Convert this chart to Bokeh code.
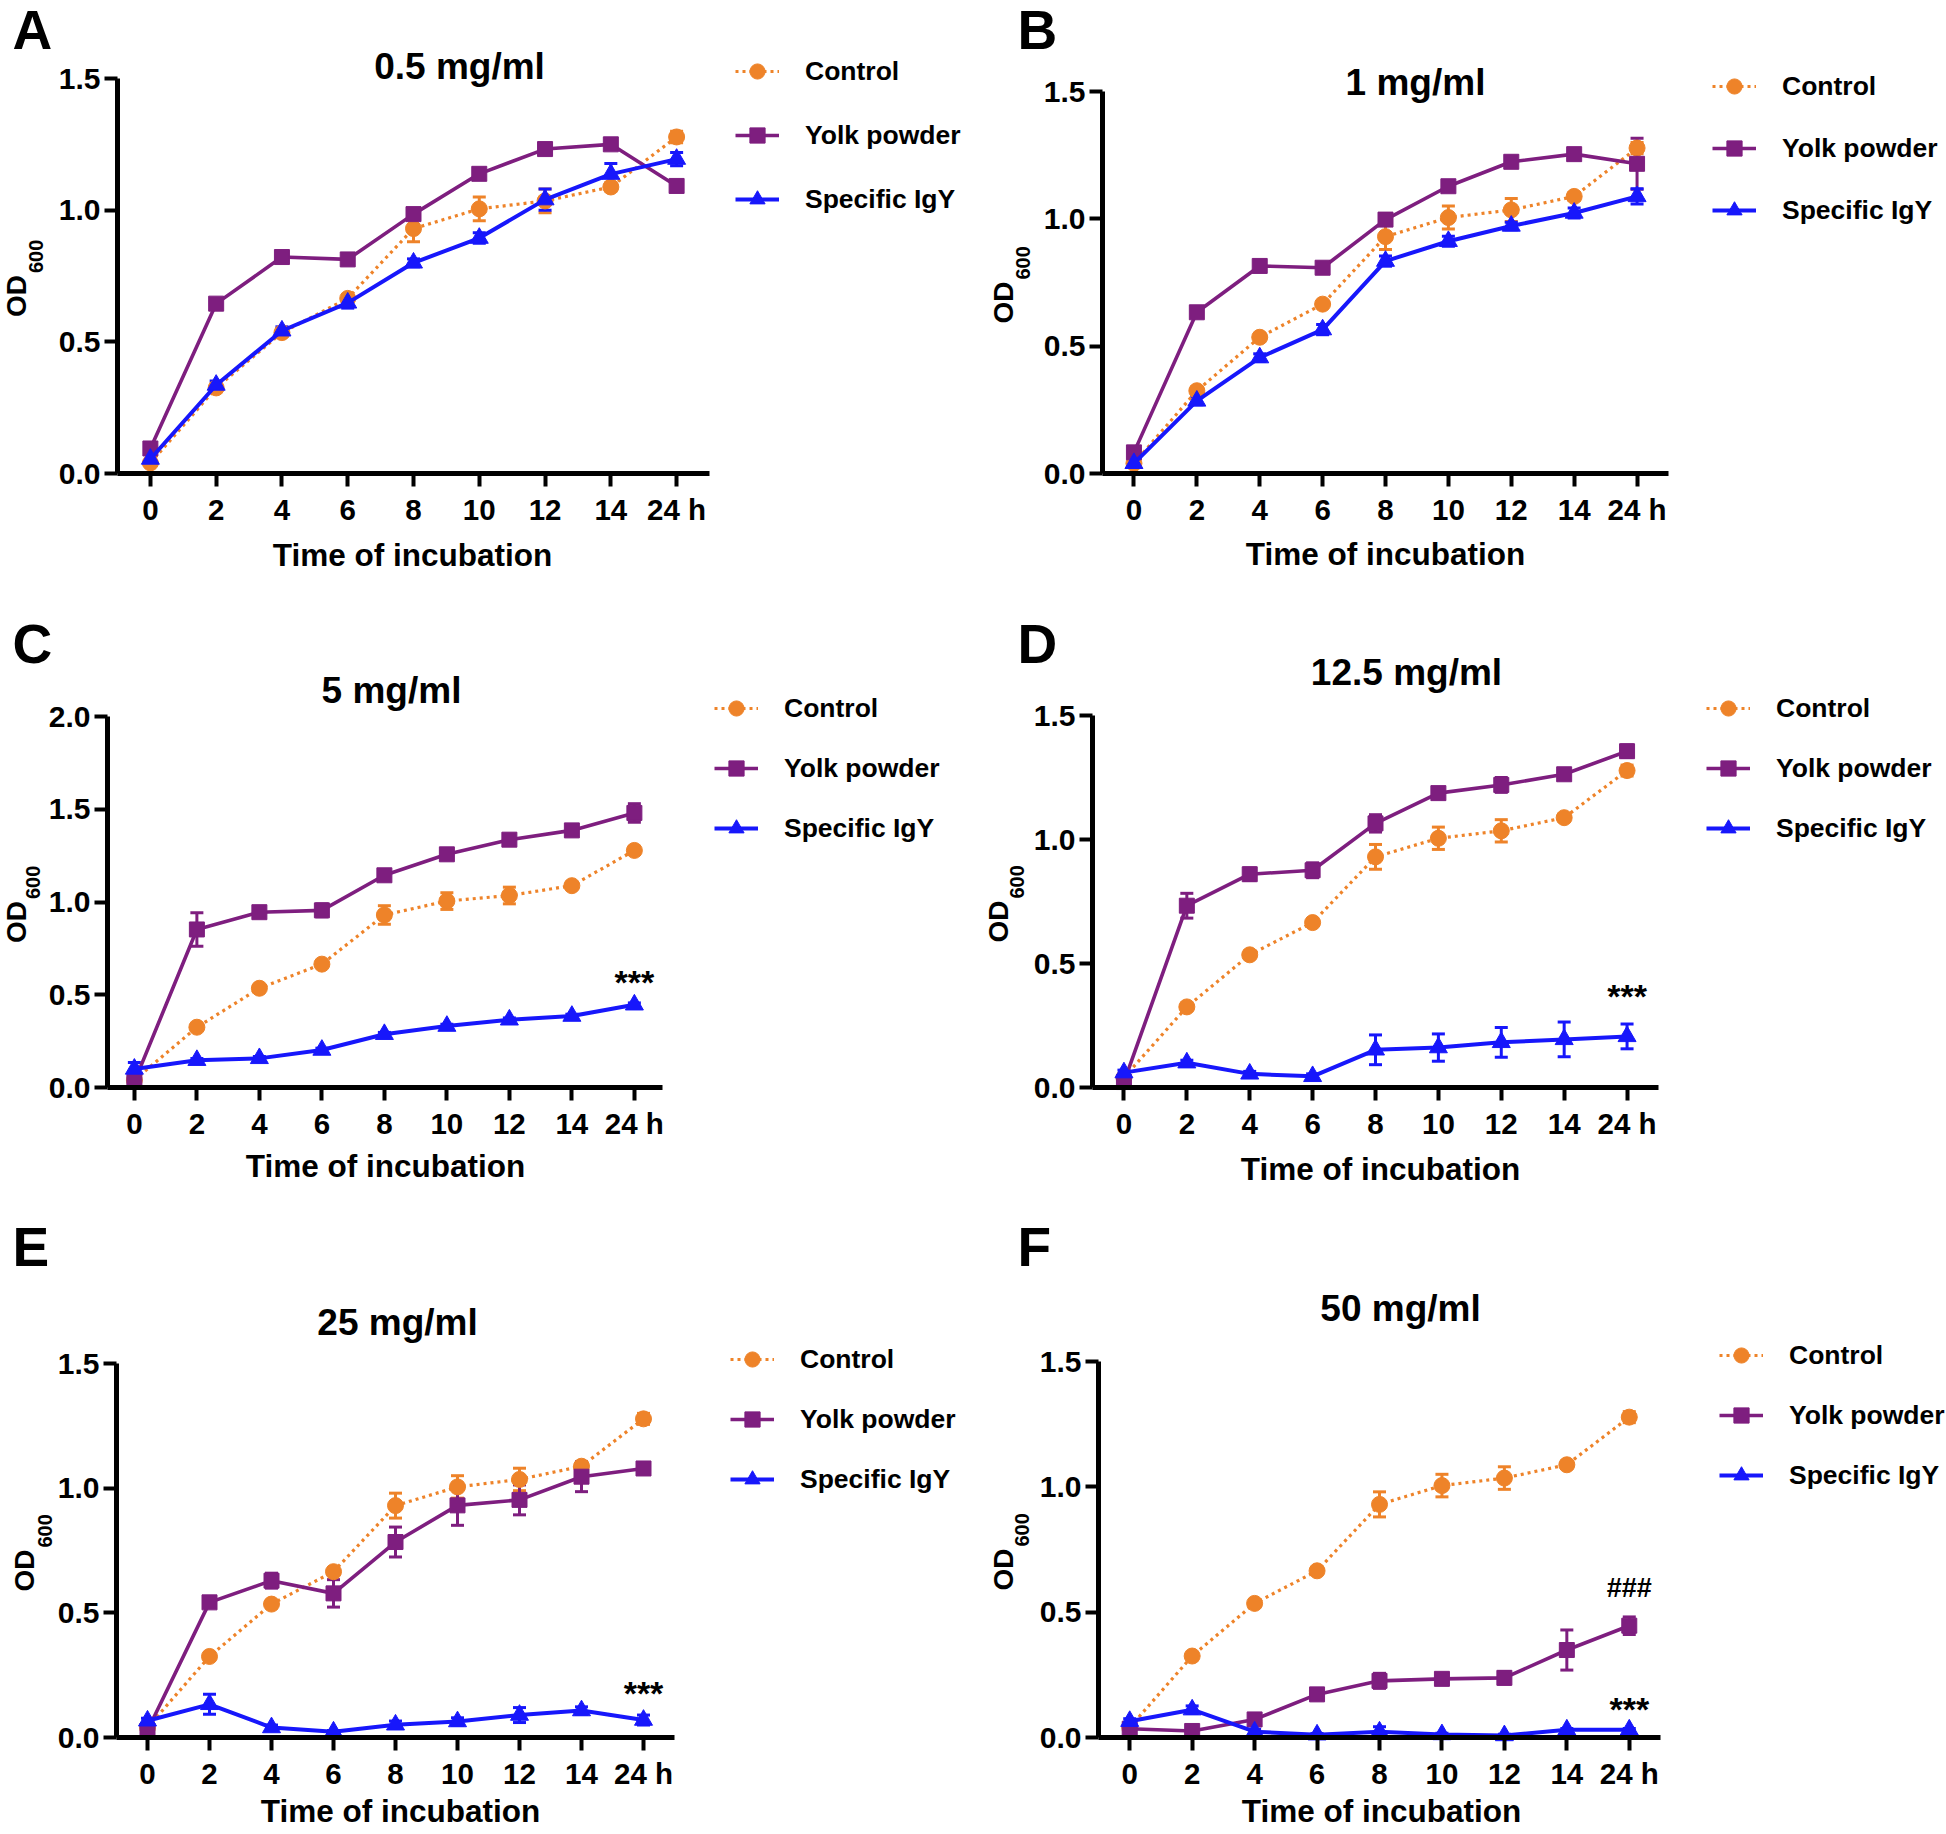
import math
from bokeh.plotting import figure
from bokeh.models import (ColumnDataSource, Whisker, TeeHead, Label, Legend, LegendItem,
                          FixedTicker, Range1d, NumeralTickFormatter)
from bokeh.layouts import column, row
from bokeh.embed import file_html
from bokeh.resources import INLINE

# ---------------- data ----------------
times = ["0", "2", "4", "6", "8", "10", "12", "14", "24 h"]
series_names = ["Control", "Yolk powder", "Specific IgY"]
titles = ["0.5 mg/ml", "1 mg/ml", "5 mg/ml", "12.5 mg/ml", "25 mg/ml", "50 mg/ml"]
panel_letters = ["A", "B", "C", "D", "E", "F"]

control = [0.04, 0.325, 0.535, 0.665, 0.93, 1.005, 1.035, 1.088, 1.278]
control_err = [0.01, 0.015, 0.015, 0.012, 0.05, 0.045, 0.045, 0.015, 0.022]

yolk_a = [0.095, 0.645, 0.822, 0.813, 0.985, 1.138, 1.232, 1.25, 1.092]
yolk_a_err = [0.015, 0.012, 0.012, 0.015, 0.02, 0.02, 0.015, 0.012, 0.02]
igy_a = [0.055, 0.336, 0.542, 0.648, 0.800, 0.894, 1.040, 1.137, 1.194]
igy_a_err = [0.02, 0.015, 0.015, 0.02, 0.015, 0.02, 0.04, 0.04, 0.025]

yolk_b = [0.083, 0.633, 0.815, 0.808, 0.997, 1.128, 1.224, 1.254, 1.216]
yolk_b_err = [0.012, 0.015, 0.012, 0.015, 0.015, 0.02, 0.015, 0.012, 0.1]
igy_b = [0.040, 0.285, 0.455, 0.565, 0.834, 0.912, 0.972, 1.023, 1.088]
igy_b_err = [0.01, 0.015, 0.015, 0.02, 0.02, 0.02, 0.015, 0.02, 0.03]

yolk_c = [0.030, 0.852, 0.945, 0.955, 1.144, 1.257, 1.336, 1.386, 1.48]
yolk_c_err = [0.01, 0.09, 0.02, 0.035, 0.02, 0.02, 0.02, 0.02, 0.05]
igy_c = [0.100, 0.147, 0.157, 0.202, 0.287, 0.331, 0.365, 0.385, 0.446]
igy_c_err = [0.035, 0.01, 0.01, 0.01, 0.01, 0.01, 0.01, 0.01, 0.01]

yolk_d = [0.022, 0.733, 0.860, 0.876, 1.065, 1.187, 1.220, 1.263, 1.356]
yolk_d_err = [0.01, 0.05, 0.025, 0.03, 0.035, 0.02, 0.03, 0.02, 0.025]
igy_d = [0.060, 0.100, 0.055, 0.045, 0.152, 0.161, 0.182, 0.194, 0.206]
igy_d_err = [0.01, 0.01, 0.01, 0.01, 0.06, 0.055, 0.06, 0.07, 0.05]

yolk_e = [0.028, 0.542, 0.629, 0.578, 0.784, 0.931, 0.953, 1.046, 1.079]
yolk_e_err = [0.01, 0.015, 0.03, 0.055, 0.06, 0.08, 0.06, 0.06, 0.02]
igy_e = [0.067, 0.133, 0.040, 0.023, 0.051, 0.064, 0.090, 0.108, 0.070]
igy_e_err = [0.01, 0.04, 0.01, 0.005, 0.015, 0.015, 0.03, 0.015, 0.02]

yolk_f = [0.035, 0.026, 0.072, 0.172, 0.226, 0.234, 0.238, 0.349, 0.446]
yolk_f_err = [0.01, 0.01, 0.015, 0.015, 0.03, 0.02, 0.025, 0.08, 0.035]
igy_f = [0.065, 0.111, 0.023, 0.011, 0.023, 0.012, 0.008, 0.031, 0.031]
igy_f_err = [0.01, 0.015, 0.01, 0.005, 0.02, 0.005, 0.005, 0.005, 0.005]

y_max = [1.5, 1.5, 2.0, 1.5, 1.5, 1.5]
yolk_all = [yolk_a, yolk_b, yolk_c, yolk_d, yolk_e, yolk_f]
yolk_err_all = [yolk_a_err, yolk_b_err, yolk_c_err, yolk_d_err, yolk_e_err, yolk_f_err]
igy_all = [igy_a, igy_b, igy_c, igy_d, igy_e, igy_f]
igy_err_all = [igy_a_err, igy_b_err, igy_c_err, igy_d_err, igy_e_err, igy_f_err]

# significance marks: (text, y value, font px) at 24 h
sig_marks = [[], [], [("***", 0.57, 34)], [("***", 0.367, 34)], [("***", 0.177, 34)],
             [("###", 0.597, 27), ("***", 0.112, 34)]]

# ---------------- layout / style ----------------
ORANGE = "#EE8329"
PURPLE = "#7E1E7F"
BLUE = "#1717FB"
FONT = "Liberation Sans"
FW = 973
col_x = [0, 973]
row_y = [0, 611, 1212]
row_h = [611, 601, 621]

# page-pixel geometry per panel: axis-box left/right, y of top tick, y of x-axis line
geom = [
    dict(c=0, r=0, L=117, R=709, xs=-0.5, xe=8.5, T=78, B=473, title_x=459, title_y=80,
         xl_x=412, xl_y=566, od_x=16, sub_x=35, let_x=12, letter_y=50, lg_x=735, lg_y=71, lg_p=63.5),
    dict(c=1, r=0, L=1102, R=1668, xs=-0.5, xe=8.5, T=91, B=473, title_x=1415, title_y=96,
         xl_x=1385, xl_y=565, od_x=1003, sub_x=1022, let_x=1017, letter_y=50, lg_x=1712, lg_y=86,
         lg_p=62),
    dict(c=0, r=1, L=107, R=662, xs=-0.43, xe=8.45, T=716, B=1087, title_x=391, title_y=704,
         xl_x=385, xl_y=1177, od_x=16, sub_x=32, let_x=12, letter_y=664, lg_x=714, lg_y=708,
         lg_p=60),
    dict(c=1, r=1, L=1092, R=1658, xs=-0.5, xe=8.5, T=715, B=1087, title_x=1406, title_y=686,
         xl_x=1380, xl_y=1180, od_x=998, sub_x=1016, let_x=1017, letter_y=664, lg_x=1706,
         lg_y=708, lg_p=60),
    dict(c=0, r=2, L=116, R=674, xs=-0.5, xe=8.5, T=1363, B=1737, title_x=397, title_y=1336,
         xl_x=400, xl_y=1822, od_x=24, sub_x=44, let_x=12, letter_y=1267, lg_x=730, lg_y=1359,
         lg_p=59.5),
    dict(c=1, r=2, L=1098, R=1660, xs=-0.5, xe=8.5, T=1361, B=1737, title_x=1400, title_y=1322,
         xl_x=1381, xl_y=1822, od_x=1003, sub_x=1021, let_x=1017, letter_y=1267, lg_x=1719,
         lg_y=1355, lg_p=59.5),
]

BASE_SHIFT = 0.37   # Bokeh draws an "alphabetic" label this many em below its anchor


def make_panel(i):
    g = geom[i]
    ox, oy = col_x[g["c"]], row_y[g["r"]]
    FH = row_h[g["r"]]
    ymax = y_max[i]
    XS, XE = g["xs"], g["xe"]
    ppu = (g["B"] - g["T"]) / ymax          # px per OD unit
    ppx = (g["R"] - g["L"]) / (XE - XS)     # px per category step
    x0 = XS - (g["L"] - ox) / ppx
    x1 = XE + (ox + FW - g["R"]) / ppx
    y1 = ymax + (g["T"] - oy) / ppu
    y0 = -(oy + FH - g["B"]) / ppu

    def xd(px):
        return XS + (px - g["L"]) / ppx

    def yd(py):
        return (g["B"] - py) / ppu

    p = figure(width=FW, height=FH, x_range=Range1d(x0, x1), y_range=Range1d(y0, y1),
               output_backend="svg", toolbar_location=None, title=None, min_border=0)
    p.outline_line_color = None
    p.grid.visible = False
    p.background_fill_color = "white"
    p.border_fill_color = "white"

    p.xaxis.fixed_location = 0
    p.yaxis.fixed_location = XS
    p.xaxis.bounds = (XS, XE)
    p.yaxis.bounds = (0, ymax)
    p.xaxis.ticker = FixedTicker(ticks=list(range(len(times))))
    p.xaxis.major_label_overrides = {k: t for k, t in enumerate(times)}
    n = int(round(ymax / 0.5))
    p.yaxis.ticker = FixedTicker(ticks=[0.5 * k for k in range(n + 1)])
    p.yaxis.formatter = NumeralTickFormatter(format="0.0")
    for ax in (p.xaxis[0], p.yaxis[0]):
        ax.axis_line_width = 5
        ax.axis_line_color = "black"
        ax.major_tick_line_width = 4
        ax.major_tick_line_color = "black"
        ax.major_tick_out = 13
        ax.major_tick_in = 0
        ax.minor_tick_line_color = None
        ax.major_label_text_font = FONT
        ax.major_label_text_font_style = "bold"
        ax.major_label_text_color = "black"
    p.xaxis.major_label_text_font_size = "29.5px"
    p.xaxis.major_label_standoff = 6
    p.yaxis.major_label_text_font_size = "30px"
    p.yaxis.major_label_standoff = 4

    x = list(range(len(times)))
    data = [(control, control_err, ORANGE, "circle", 16, 3.2, "3 4"),
            (yolk_all[i], yolk_err_all[i], PURPLE, "square", 15, 3.6, "solid"),
            (igy_all[i], igy_err_all[i], BLUE, "triangle", 18, 4.0, "solid")]
    items = []
    for (vals, errs, col, mk, sz, lw, dash), name in zip(data, series_names):
        src = ColumnDataSource(dict(x=x, y=vals,
                                    lo=[v - e for v, e in zip(vals, errs)],
                                    hi=[v + e for v, e in zip(vals, errs)]))
        lr = p.line("x", "y", source=src, line_color=col, line_width=lw, line_dash=dash)
        w = Whisker(source=src, base="x", lower="lo", upper="hi", dimension="height",
                    line_color=col, line_width=3,
                    lower_head=TeeHead(size=13, line_color=col, line_width=3),
                    upper_head=TeeHead(size=13, line_color=col, line_width=3))
        p.add_layout(w)
        sr = p.scatter("x", "y", source=src, marker=mk, size=sz, fill_color=col, line_color=col)
        items.append(LegendItem(label=name, renderers=[lr, sr]))

    ih = 38
    sp = int(round(g["lg_p"] - ih))
    lh = 3 * ih + 2 * sp
    legend_bottom = g["lg_y"] - ih / 2 + lh
    leg = Legend(items=items, location=(g["lg_x"] - ox, oy + FH - legend_bottom),
                 glyph_width=44, glyph_height=ih, label_height=ih, spacing=sp,
                 padding=0, margin=0, label_standoff=26, border_line_color=None,
                 background_fill_alpha=0, label_text_font=FONT, label_text_font_style="bold",
                 label_text_font_size="26.5px", label_text_color="black")
    p.add_layout(leg)

    def lab(px, py, text, size, align="center"):
        p.add_layout(Label(x=xd(px), y=yd(py - BASE_SHIFT * size), text=text, text_font=FONT,
                           text_font_style="bold", text_font_size=f"{size}px",
                           text_align=align, text_baseline="alphabetic", text_color="black"))

    def vlab(px, py, text, size):
        p.add_layout(Label(x=xd(px), y=yd(py), text=text, text_font=FONT,
                           text_font_style="bold", text_font_size=f"{size}px",
                           text_align="left", text_baseline="middle", angle=math.pi / 2,
                           text_color="black"))

    # panel letter, title, axis labels
    lab(g["let_x"], g["letter_y"], panel_letters[i], 55, align="left")
    lab(g["title_x"], g["title_y"], titles[i], 37)
    lab(g["xl_x"], g["xl_y"], "Time of incubation", 31.5)
    cy = (g["T"] + g["B"]) / 2 + 2
    od_start = cy + 39
    vlab(g["od_x"], od_start, "OD", 28)
    vlab(g["sub_x"], od_start - 44, "600", 20)

    for text, yv, fs in sig_marks[i]:
        p.add_layout(Label(x=8, y=yv, text=text, text_font=FONT, text_font_style="bold",
                           text_font_size=f"{fs}px", text_align="center", text_baseline="middle",
                           text_color="black"))
    return p


panels = [make_panel(i) for i in range(6)]
layout = column(row(panels[0], panels[1]), row(panels[2], panels[3]), row(panels[4], panels[5]))
open("out.html", "w").write(file_html(layout, INLINE))
